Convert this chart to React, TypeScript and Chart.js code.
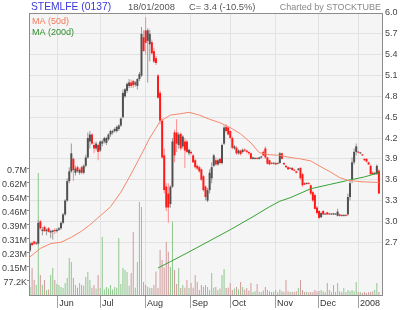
import React, { useEffect, useRef } from 'react';
import { Chart, registerables } from 'chart.js';

Chart.register(...registerables);

// ---- Daily OHLC (trading-day index 0..169, mid-May 2007 .. 18/01/2008) ----
const opens = [
  2.58, 2.69, 2.71, 2.68, 2.68, 3.00, 2.86, 2.92, 2.86, 2.90,
  2.84, 2.85, 2.87, 2.86, 2.88, 2.90, 2.98, 3.10, 3.30, 3.58,
  3.72, 3.90, 3.70, 3.78, 3.70, 3.78, 3.70, 3.80, 3.92, 4.15,
  4.25, 4.10, 4.05, 4.10, 4.02, 4.12, 4.15, 4.13, 4.18, 4.25,
  4.28, 4.30, 4.30, 4.33, 4.38, 4.50, 4.80, 4.88, 4.95, 5.00,
  5.02, 4.97, 4.95, 5.05, 5.10, 5.65, 5.75, 5.60, 5.55, 5.58,
  5.45, 5.35, 5.10, 4.85, 4.45, 3.95, 3.50, 3.40, 3.25, 3.50,
  4.28, 4.28, 4.10, 4.26, 4.08, 4.15, 4.15, 3.98, 4.00, 3.95,
  3.88, 3.80, 3.78, 3.75, 3.65, 3.50, 3.30, 3.45, 3.62, 3.80,
  3.88, 3.82, 3.90, 3.84, 4.12, 4.36, 4.35, 4.30, 4.20, 4.05,
  4.06, 3.98, 4.02, 4.00, 4.03, 4.02, 4.00, 3.98, 3.90, 3.90,
  3.91, 3.90, 3.92, 4.00, 4.05, 3.92, 3.88, 3.84, 3.83, 3.84,
  3.83, 3.84, 3.98, 3.84, 3.80, 3.78, 3.76, 3.77, 3.74, 3.72,
  3.74, 3.77, 3.68, 3.55, 3.54, 3.55, 3.52, 3.42, 3.38, 3.20,
  3.15, 3.06, 3.15, 3.10, 3.13, 3.11, 3.10, 3.10, 3.10, 3.08,
  3.10, 3.08, 3.08, 3.09, 3.10, 3.35, 3.60, 3.85, 4.00, 4.00,
  3.98, 3.96, 3.90, 3.90, 3.85, 3.80, 3.70, 3.68, 3.68, 3.73,
];
const highs = [
  2.70, 2.71, 2.72, 2.71, 3.02, 3.02, 2.92, 2.94, 2.90, 2.92,
  2.88, 2.88, 2.90, 2.90, 2.92, 3.00, 3.12, 3.32, 3.62, 3.78,
  4.12, 3.92, 3.80, 3.80, 3.76, 3.80, 3.82, 3.96, 4.28, 4.30,
  4.27, 4.14, 4.15, 4.12, 4.16, 4.18, 4.22, 4.22, 4.27, 4.32,
  4.32, 4.35, 4.38, 4.40, 4.50, 4.90, 4.92, 5.00, 5.05, 5.04,
  5.04, 5.02, 5.06, 5.15, 5.80, 5.75, 5.94, 5.78, 5.76, 5.62,
  5.50, 5.38, 5.12, 4.88, 4.48, 4.05, 3.55, 3.55, 3.52, 4.20,
  4.32, 4.47, 4.28, 4.28, 4.24, 4.20, 4.17, 4.05, 4.02, 3.97,
  3.90, 3.82, 3.80, 3.76, 3.67, 3.52, 3.48, 3.75, 3.85, 3.97,
  3.92, 3.90, 3.92, 4.12, 4.38, 4.40, 4.36, 4.31, 4.22, 4.10,
  4.08, 4.04, 4.03, 4.05, 4.05, 4.03, 4.01, 3.99, 3.93, 3.92,
  3.92, 3.93, 3.94, 4.02, 4.08, 3.93, 3.89, 3.85, 3.85, 3.85,
  3.84, 4.00, 3.99, 3.85, 3.81, 3.79, 3.77, 3.78, 3.75, 3.73,
  3.77, 3.78, 3.70, 3.56, 3.56, 3.56, 3.53, 3.44, 3.40, 3.22,
  3.16, 3.14, 3.16, 3.11, 3.14, 3.12, 3.11, 3.12, 3.11, 3.18,
  3.11, 3.09, 3.10, 3.10, 3.40, 3.60, 3.92, 4.05, 4.12, 4.01,
  3.99, 3.97, 3.91, 3.91, 3.86, 3.82, 3.72, 3.71, 3.82, 3.75,
];
const lows = [
  2.56, 2.64, 2.66, 2.66, 2.66, 2.88, 2.80, 2.85, 2.80, 2.84,
  2.76, 2.74, 2.82, 2.84, 2.86, 2.88, 2.96, 3.08, 3.28, 3.55,
  3.70, 3.58, 3.66, 3.70, 3.67, 3.68, 3.68, 3.78, 3.90, 4.05,
  4.10, 3.98, 4.02, 3.88, 4.00, 4.08, 4.12, 4.10, 4.16, 4.22,
  4.25, 4.28, 4.28, 4.30, 4.36, 4.48, 4.78, 4.85, 4.92, 4.92,
  4.92, 4.94, 4.90, 5.02, 5.08, 5.45, 5.40, 5.00, 5.30, 5.40,
  5.28, 5.25, 4.77, 4.40, 3.90, 3.40, 3.15, 2.98, 3.20, 3.48,
  3.85, 4.00, 4.05, 4.02, 4.05, 3.77, 3.98, 3.95, 3.96, 3.84,
  3.76, 3.74, 3.70, 3.58, 3.43, 3.30, 3.28, 3.40, 3.55, 3.78,
  3.80, 3.80, 3.82, 3.82, 4.10, 4.28, 4.24, 4.18, 4.04, 4.03,
  3.96, 3.96, 3.95, 3.98, 4.00, 3.98, 3.96, 3.89, 3.89, 3.89,
  3.89, 3.89, 3.90, 3.94, 3.90, 3.82, 3.81, 3.82, 3.82, 3.81,
  3.82, 3.83, 3.89, 3.81, 3.77, 3.74, 3.75, 3.73, 3.72, 3.69,
  3.73, 3.60, 3.50, 3.52, 3.53, 3.53, 3.38, 3.28, 3.17, 3.10,
  3.03, 3.05, 3.09, 3.09, 3.09, 3.09, 3.09, 3.09, 3.09, 3.07,
  3.07, 3.07, 3.07, 3.07, 3.08, 3.30, 3.55, 3.82, 3.95, 3.98,
  3.97, 3.94, 3.87, 3.85, 3.81, 3.67, 3.67, 3.67, 3.67, 3.40,
];
const closes = [
  2.68, 2.66, 2.68, 2.69, 2.98, 2.90, 2.88, 2.86, 2.88, 2.85,
  2.86, 2.87, 2.86, 2.88, 2.90, 2.98, 3.10, 3.30, 3.58, 3.72,
  3.98, 3.74, 3.76, 3.72, 3.74, 3.70, 3.80, 3.92, 4.20, 4.25,
  4.12, 4.05, 4.12, 4.00, 4.15, 4.15, 4.20, 4.20, 4.25, 4.30,
  4.30, 4.33, 4.36, 4.38, 4.48, 4.85, 4.90, 4.98, 5.00, 4.95,
  4.96, 5.00, 5.05, 5.12, 5.70, 5.45, 5.57, 5.75, 5.70, 5.42,
  5.30, 5.28, 4.78, 4.45, 3.92, 3.45, 3.20, 3.20, 3.50, 4.15,
  3.95, 4.12, 4.25, 4.05, 4.22, 4.02, 4.00, 4.03, 3.98, 3.85,
  3.78, 3.76, 3.72, 3.60, 3.45, 3.35, 3.45, 3.70, 3.78, 3.95,
  3.82, 3.88, 3.84, 4.10, 4.35, 4.30, 4.25, 4.20, 4.06, 4.08,
  3.98, 4.02, 3.97, 4.03, 4.02, 4.00, 3.98, 3.90, 3.92, 3.91,
  3.90, 3.92, 3.93, 3.95, 3.92, 3.83, 3.82, 3.83, 3.84, 3.82,
  3.83, 3.98, 3.90, 3.82, 3.78, 3.75, 3.76, 3.74, 3.73, 3.70,
  3.76, 3.62, 3.52, 3.53, 3.55, 3.54, 3.40, 3.30, 3.18, 3.12,
  3.05, 3.12, 3.10, 3.10, 3.10, 3.10, 3.10, 3.11, 3.10, 3.14,
  3.08, 3.08, 3.09, 3.08, 3.35, 3.55, 3.85, 4.00, 4.08, 3.99,
  3.98, 3.95, 3.88, 3.86, 3.82, 3.68, 3.68, 3.70, 3.80, 3.40,
];
// daily volume, thousands of shares
const volumesK = [
  45, 148, 82, 55, 668, 110, 55, 82, 27, 30,
  110, 148, 82, 60, 55, 44, 40, 66, 93, 203,
  181, 93, 55, 40, 66, 55, 50, 99, 126, 82,
  40, 55, 35, 110, 38, 318, 30, 44, 35, 55,
  30, 44, 40, 312, 60, 148, 137, 126, 50, 120,
  345, 40, 181, 509, 482, 71, 55, 45, 40, 38,
  55, 128, 38, 246, 192, 150, 292, 237, 153, 402,
  137, 60, 148, 38, 55, 40, 82, 38, 66, 40,
  110, 71, 27, 55, 45, 55, 44, 27, 120, 40,
  44, 27, 35, 110, 142, 38, 40, 66, 27, 35,
  44, 30, 71, 44, 30, 38, 25, 66, 16, 20,
  60, 18, 16, 25, 44, 27, 20, 16, 18, 27,
  15, 30, 20, 16, 82, 20, 16, 18, 16, 20,
  38, 82, 27, 16, 18, 15, 16, 16, 27, 20,
  22, 27, 20, 15, 66, 27, 16, 55, 16, 66,
  20, 16, 38, 16, 27, 20, 27, 20, 71, 16,
  16, 11, 16, 11, 16, 16, 20, 27, 66, 16,
];

// moving averages read at sample days
const ma50Days = [0, 5, 10, 15, 20, 25, 29, 34, 39, 44, 48, 53, 58, 63, 68, 73, 77, 82, 87, 92, 97, 102, 107, 111, 116, 121, 126, 131, 136, 140, 145, 150, 154, 161, 169];
const ma50Values = [2.49, 2.61, 2.68, 2.70, 2.77, 2.86, 2.95, 3.08, 3.21, 3.42, 3.63, 3.91, 4.20, 4.44, 4.53, 4.55, 4.57, 4.53, 4.47, 4.42, 4.35, 4.26, 4.13, 3.99, 3.96, 3.95, 3.92, 3.90, 3.87, 3.80, 3.72, 3.63, 3.59, 3.57, 3.56];
const ma200Days = [62, 68, 77, 87, 97, 107, 116, 121, 126, 136, 145, 154, 162, 169];
const ma200Values = [2.33, 2.42, 2.56, 2.72, 2.88, 3.05, 3.21, 3.29, 3.34, 3.47, 3.53, 3.59, 3.64, 3.70];

// axes
const monthTickPos = [13.2, 33.9, 55.7, 77.5, 96.9, 118.7, 139.5, 158.9];
const monthLabels = ['Jun', 'Jul', 'Aug', 'Sep', 'Oct', 'Nov', 'Dec', '2008'];
const priceTicks = [2.7, 3.0, 3.3, 3.6, 3.9, 4.2, 4.5, 4.8, 5.1, 5.4, 5.7, 6.0];
const volTicksK = [77.23, 154.46, 231.69, 308.92, 386.15, 463.38, 540.61, 617.84, 695.07];
const volTickLabels = ['77.2K', '0.15M', '0.23M', '0.31M', '0.39M', '0.46M', '0.54M', '0.62M', '0.7M'];

const FONT = '"Liberation Sans", Arial, sans-serif';

const decor = {
  id: 'decor',
  beforeDraw(chart: any) {
    const { ctx, chartArea: a } = chart;
    ctx.save();
    ctx.fillStyle = '#f5f5f5';
    ctx.fillRect(a.left, a.top, a.right - a.left, a.bottom - a.top);
    ctx.restore();
  },
  afterDraw(chart: any) {
    const { ctx, chartArea: a } = chart;
    ctx.save();
    ctx.strokeStyle = '#8c8c8c';
    ctx.lineWidth = 1;
    ctx.strokeRect(a.left + 0.5, a.top + 0.5, a.right - a.left, a.bottom - a.top);

    ctx.textBaseline = 'alphabetic';
    ctx.textAlign = 'left';
    ctx.font = `9px ${FONT}`;
    ctx.fillStyle = '#f27a5c';
    ctx.fillText('MA (50d)', a.left + 3, 24);
    ctx.fillStyle = '#2f8f2f';
    ctx.fillText('MA (200d)', a.left + 3, 35);

    ctx.font = `10.3px ${FONT}`;
    ctx.fillStyle = '#3a3ad8';
    ctx.fillText('STEMLFE (0137)', 31, 10);
    ctx.font = `9.4px ${FONT}`;
    ctx.fillStyle = '#555';
    ctx.fillText('18/01/2008', 128, 10);
    ctx.fillText('C= 3.4 (-10.5%)', 189, 10);
    ctx.font = `9px ${FONT}`;
    ctx.fillStyle = '#888';
    ctx.textAlign = 'right';
    ctx.fillText('Charted by STOCKTUBE', 381, 10);
    ctx.restore();
  },
};

export default function App() {
  const ref = useRef<HTMLCanvasElement | null>(null);

  useEffect(() => {
    if (!ref.current) return;
    const up = opens.map((o, i) => closes[i] >= o);
    const chart = new Chart(ref.current, {
      type: 'bar',
      data: {
        datasets: [
          {
            type: 'line',
            data: ma50Days.map((d, k) => ({ x: d, y: ma50Values[k] })),
            yAxisID: 'y',
            borderColor: '#f7886c',
            borderWidth: 1,
            pointRadius: 0,
            order: 0,
          } as any,
          {
            type: 'line',
            data: ma200Days.map((d, k) => ({ x: d, y: ma200Values[k] })),
            yAxisID: 'y',
            borderColor: '#36a336',
            borderWidth: 1,
            pointRadius: 0,
            order: 0,
          } as any,
          {
            type: 'bar',
            data: opens.map((o, i) => ({ x: i, y: [o, closes[i]] })),
            yAxisID: 'y',
            backgroundColor: up.map((u) => (u ? '#505050' : '#ff1a1a')),
            barThickness: 2,
            minBarLength: 1,
            order: 1,
          } as any,
          {
            type: 'bar',
            data: lows.map((l, i) => ({ x: i, y: [l, highs[i]] })),
            yAxisID: 'y',
            backgroundColor: up.map((u) => (u ? '#9a9a9a' : '#ff8c8c')),
            barThickness: 1,
            minBarLength: 1,
            order: 2,
          } as any,
          {
            type: 'bar',
            data: volumesK.map((v, i) => ({ x: i, y: v })),
            yAxisID: 'vol',
            backgroundColor: up.map((u) => (u ? '#8ec88e' : '#cf9c9c')),
            barThickness: 1,
            order: 3,
          } as any,
        ],
      },
      options: {
        animation: false,
        responsive: false,
        devicePixelRatio: 1,
        layout: { padding: { top: 13, left: 0, right: 0, bottom: 0 } },
        datasets: { bar: { grouped: false, inflateAmount: 0, borderWidth: 0 } } as any,
        plugins: { legend: { display: false }, tooltip: { enabled: false }, title: { display: false } },
        font: { family: FONT, size: 9 } as any,
        scales: {
          x: {
            type: 'linear',
            position: 'bottom',
            min: -0.5,
            max: 170.5,
            bounds: 'data',
            offset: false,
            border: { display: false },
            grid: { color: '#e2e2e2', tickColor: '#a0a0a0', tickLength: 13, drawTicks: true, offset: false },
            ticks: {
              autoSkip: false,
              maxRotation: 0,
              align: 'start',
              padding: -10,
              labelOffset: 2,
              color: '#333',
              font: { family: FONT, size: 9 },
              callback: (_v: any, idx: number) => monthLabels[idx],
            },
            afterBuildTicks: (s: any) => {
              s.ticks = monthTickPos.map((v) => ({ value: v }));
            },
            afterFit: (s: any) => {
              s.height = 15;
            },
          } as any,
          y: {
            type: 'linear',
            position: 'right',
            min: 1.94,
            max: 6.0,
            bounds: 'data',
            beginAtZero: false,
            border: { display: false },
            grid: { color: '#e2e2e2', drawTicks: false },
            ticks: {
              autoSkip: false,
              padding: 3,
              color: '#444',
              font: { family: FONT, size: 9 },
              callback: (v: any) => Number(v).toFixed(1),
            },
            afterBuildTicks: (s: any) => {
              s.ticks = priceTicks.map((v) => ({ value: v }));
            },
            afterFit: (s: any) => {
              s.width = 18;
            },
          } as any,
          vol: {
            type: 'linear',
            position: 'left',
            min: 0,
            max: 1544,
            bounds: 'data',
            beginAtZero: true,
            border: { display: false },
            grid: { display: true, drawOnChartArea: false, drawTicks: true, tickLength: 2, tickColor: '#8c8c8c' },
            ticks: {
              autoSkip: false,
              padding: 0,
              labelOffset: 2,
              color: '#444',
              font: { family: FONT, size: 9 },
              callback: (_v: any, idx: number) => volTickLabels[idx],
            },
            afterBuildTicks: (s: any) => {
              s.ticks = volTicksK.map((v) => ({ value: v }));
            },
            afterFit: (s: any) => {
              s.width = 29;
            },
          } as any,
        },
      },
      plugins: [decor],
    });
    return () => chart.destroy();
  }, []);

  return (
    <div style={{ position: 'absolute', left: 0, top: 0, width: 400, height: 310, background: '#fff' }}>
      <canvas ref={ref} width={400} height={310} style={{ display: 'block', width: 400, height: 310 }} />
    </div>
  );
}
